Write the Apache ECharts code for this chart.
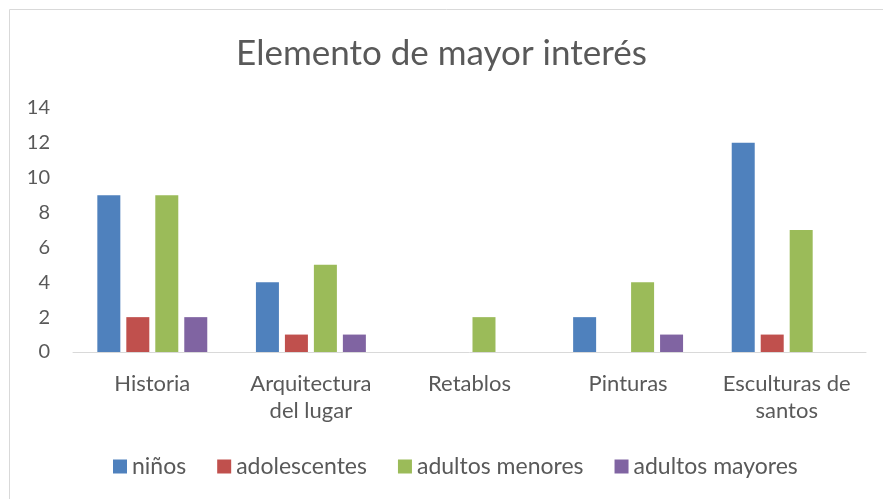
<!DOCTYPE html>
<html>
<head>
<meta charset="utf-8">
<script src="https://cdn.jsdelivr.net/npm/echarts@6/dist/echarts.min.js"></script>
<style>
  html, body { margin: 0; padding: 0; background: #fff; }
  #chart { width: 883px; height: 499px; }
</style>
</head>
<body>
<div id="chart"></div>
<script>
// datos
var categorias = ['Historia', 'Arquitectura\ndel lugar', 'Retablos', 'Pinturas', 'Esculturas de\nsantos'];
var ninos = [9, 4, 0, 2, 12];
var adolescentes = [2, 1, 0, 0, 1];
var adultosMenores = [9, 5, 2, 4, 7];
var adultosMayores = [2, 1, 0, 1, 0];
var nombres = ['niños', 'adolescentes', 'adultos menores', 'adultos mayores'];
var colores = ['#4F81BD', '#C0504D', '#9BBB59', '#8064A2'];

var fuente = 'Lato';
var myChart = echarts.init(document.getElementById('chart'));

function serie(nombre, datos, color) {
    return {
        name: nombre,
        type: 'bar',
        data: datos,
        barWidth: 23,
        barGap: '26%',
        itemStyle: { color: color },
        emphasis: { disabled: true }
    };
}

var option = {
    animation: false,
    color: colores,
    textStyle: { fontFamily: fuente },
    title: {
        text: 'Elemento de mayor interés',
        left: 'center',
        top: 31,
        textStyle: { fontFamily: fuente, fontSize: 35, fontWeight: 'normal', color: '#595959' }
    },
    legend: {
        data: nombres,
        bottom: 16,
        left: 108,
        itemWidth: 14,
        itemHeight: 14,
        itemGap: 31,
        icon: 'rect',
        textStyle: { fontFamily: fuente, fontSize: 23, color: '#595959' }
    },
    grid: { left: 73, right: 17, top: 108, bottom: 147 },
    xAxis: {
        type: 'category',
        data: categorias,
        axisLine: { lineStyle: { color: '#D9D9D9', width: 1 } },
        axisTick: { show: false },
        axisLabel: { fontFamily: fuente, fontSize: 22, color: '#595959', margin: 18, lineHeight: 27, interval: 0 }
    },
    yAxis: {
        type: 'value',
        min: 0,
        max: 14,
        interval: 2,
        axisLine: { show: false },
        axisTick: { show: false },
        splitLine: { show: false },
        axisLabel: { fontFamily: fuente, fontSize: 20, color: '#595959', margin: 23 }
    },
    graphic: [{
        type: 'rect',
        shape: { x: 9.5, y: 9.5, width: 1000, height: 1000 },
        style: { fill: 'none', stroke: '#D9D9D9', lineWidth: 1 },
        silent: true
    }],
    series: [
        serie(nombres[0], ninos, colores[0]),
        serie(nombres[1], adolescentes, colores[1]),
        serie(nombres[2], adultosMenores, colores[2]),
        serie(nombres[3], adultosMayores, colores[3])
    ]
};

myChart.setOption(option);
</script>
</body>
</html>
